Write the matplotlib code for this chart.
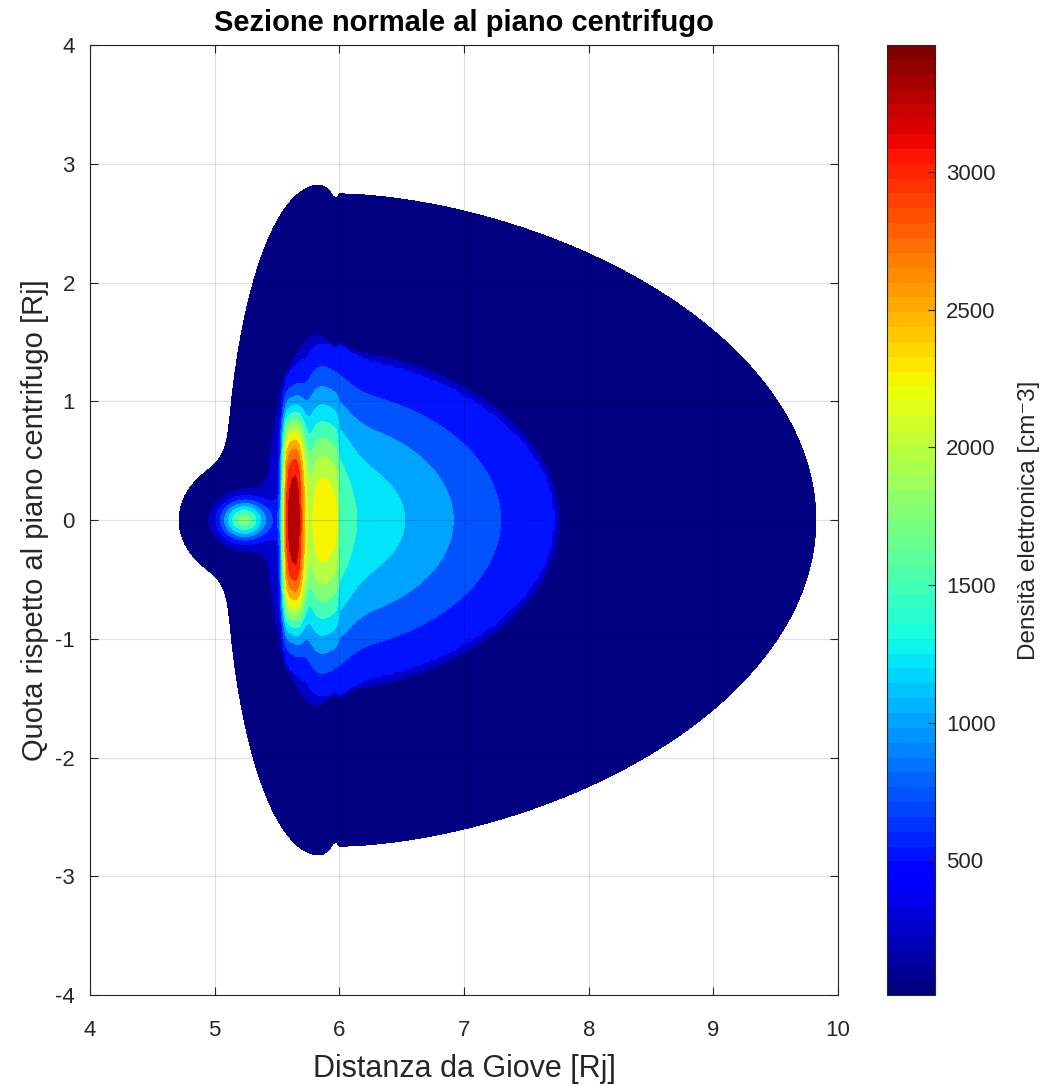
import numpy as np
import matplotlib.pyplot as plt
from matplotlib.colors import Normalize
from matplotlib.cm import ScalarMappable

plt.rcParams['font.family'] = ['Liberation Sans', 'DejaVu Sans']
plt.rcParams['axes.unicode_minus'] = False

# Torus components
# centre [Rj], peak density [cm^-3], radial width [Rj], radial exponent, scale height [Rj]
warm = [5.92, 1450, 0.20, 4.0, 1.10]
warm_tail = [5.87, 458, 0.20, 2.0, 1.33]
cold = [5.23, 1750, 0.19, 2.0, 0.17]
cold_halo = [5.20, 60, 0.35, 2.0, 0.35]
extended = [6.00, 1450, 1.665, 1.65, 1.33]
# ribbon: centre, peak, inner width, outer width, inner exp, outer exp, core height
ribbon = [5.625, 2675, 0.086, 0.098, 4.0, 2.8, 0.88]
ribbon_halo = [0.25, 1.2]   # fraction, scale height
# broad envelope: inner part (centre, peak, left width, right width, height) and outer part
env_inner = [5.84, 1030, 0.35, 0.30, 1.31]
env_inner_edge = 0.20       # right width of the inner envelope outside the core
env_outer = [6.00, 810, 1.60, 1.70, 1.31]
r_split = 6.0               # inner / outer model boundary [Rj]
n_cut = 500                 # core cut-off [cm^-3]
n_min = 10                  # nothing drawn below this

levels = [n_min] + list(range(250, 3500, 250))
cbar_ticks = [500, 1000, 1500, 2000, 2500, 3000]
x_ticks = [4, 5, 6, 7, 8, 9, 10]
y_ticks = [-4, -3, -2, -1, 0, 1, 2, 3, 4]


def prof(x, w, p=2.0):
    return np.exp(-np.abs(x / w) ** p)


r = np.arange(4.0, 10.0001, 0.025)
z = np.arange(-4.0, 4.0001, 0.025)
R, Z = np.meshgrid(r, z)

c, n0, wi, wo, pi, po, h = ribbon
inside = R < c
rib = n0 * prof(R - c, np.where(inside, wi, wo), np.where(inside, pi, po)) \
    * ((1 - ribbon_halo[0]) * prof(Z, h, 4) + ribbon_halo[0] * prof(Z, ribbon_halo[1]))
c, n0, w, p, h = warm
wrm = n0 * prof(R - c, w, p) * prof(Z, h)
c, n0, w, p, h = warm_tail
tail = n0 * prof(R - c, w, p) * prof(Z, h)
c, n0, w, p, h = extended
ext = n0 * prof(np.maximum(R - c, 0), w, p) * prof(Z, h)
c, n0, w, p, h = cold
cld = n0 * prof(R - c, w, p) * prof(Z, h)
c, n0, w, p, h = cold_halo
halo = n0 * prof(np.hypot(R - c, Z), w, p)

c, n0, wl, wr, h = env_inner
env_a = n0 * prof(R - c, np.where(R < c, wl, wr)) * prof(Z, h)
env_a_edge = n0 * prof(R - c, np.where(R < c, wl, env_inner_edge)) * prof(Z, h)
c, n0, w, p, h = env_outer
env_b = n0 * np.where(R >= c, prof(R - c, w, p), prof(R - c, 0.07)) * prof(Z, h)
env = np.maximum(env_a_edge, env_b)

left = env_a + wrm + rib
right = ext + tail
base = np.where(R < r_split,
                np.where(left >= n_cut, left, env),
                np.where(right >= n_cut, right, env))
dens = base + cld + halo

vmax = dens.max()
norm = Normalize(n_min, vmax)
cmap = plt.get_cmap('jet', 64)
band_colors = [cmap(norm(v)) for v in levels]

fig = plt.figure(figsize=(10.52, 10.85), dpi=100)
ax = fig.add_axes([0.0856, 0.0829, 0.7110, 0.8756])
cax = fig.add_axes([0.8432, 0.0829, 0.0456, 0.8756])

ax.contourf(R, Z, dens, levels=levels + [vmax * 1.001], colors=band_colors)

txt = (0.15, 0.15, 0.15)
ax.set_xlim(4, 10)
ax.set_ylim(-4, 4)
ax.set_xticks(x_ticks)
ax.set_yticks(y_ticks)
ax.grid(True, color='k', alpha=0.13, lw=0.8)
ax.set_axisbelow(False)
ax.tick_params(direction='in', top=True, right=True, length=6, width=0.8,
               labelsize=16, colors=txt)
ax.tick_params(axis='x', pad=18)
ax.tick_params(axis='y', pad=11)
for s in ax.spines.values():
    s.set_color(txt)
    s.set_linewidth(0.8)
ax.set_xlabel('Distanza da Giove [Rj]', fontsize=22, color=txt, labelpad=9)
ax.set_ylabel('Quota rispetto al piano centrifugo [Rj]', fontsize=21, color=txt, labelpad=4)
ax.set_title('Sezione normale al piano centrifugo', fontsize=21, fontweight='bold',
             color='k', pad=10)

cb = fig.colorbar(ScalarMappable(norm=norm, cmap=cmap), cax=cax, ticks=cbar_ticks)
cb.ax.tick_params(direction='in', length=5, width=0.8, labelsize=16, colors=txt, pad=8)
cb.outline.set_edgecolor(txt)
cb.outline.set_linewidth(0.8)
cb.set_label('Densità elettronica [cm⁻3]', fontsize=17.5, color=txt, labelpad=16)

fig.savefig('out.png', dpi=100)
